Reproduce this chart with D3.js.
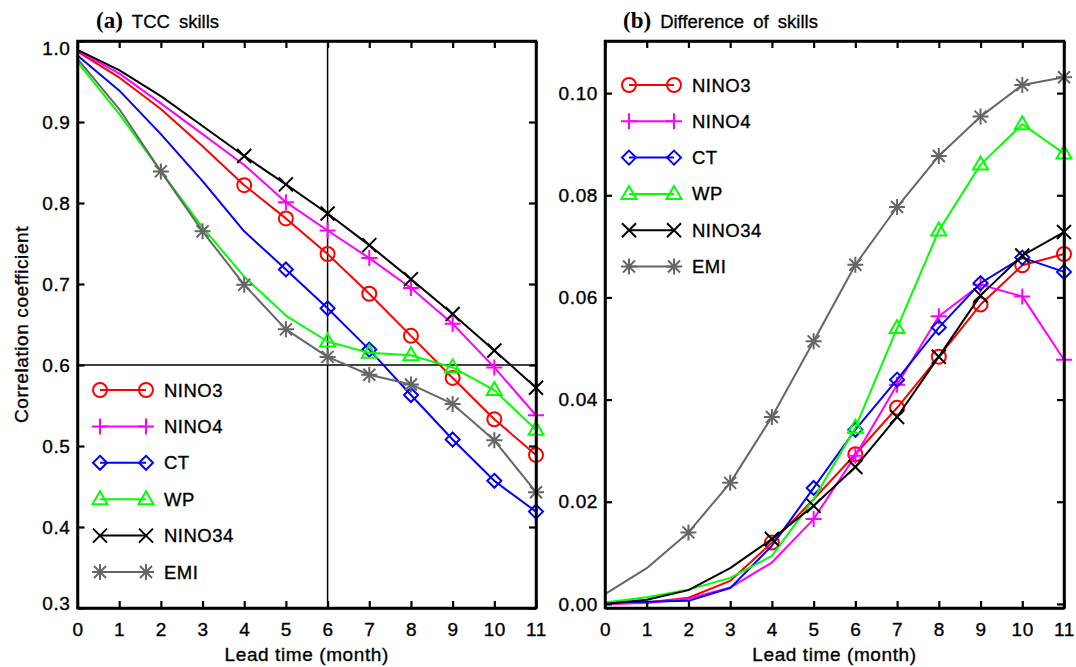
<!DOCTYPE html>
<html>
<head>
<meta charset="utf-8">
<script src="https://cdn.jsdelivr.net/npm/d3@7"></script>
<style>
  body { margin: 0; background: #fff; }
  svg { display: block; }
  text { font-family: "Liberation Sans", Arial, Helvetica, sans-serif; fill: #000; }
</style>
</head>
<body>
<svg id="chart" width="1076" height="667"></svg>
<script>
// ---------------- data ----------------
const leadMonths = [0, 1, 2, 3, 4, 5, 6, 7, 8, 9, 10, 11];
const seriesNames = ["NINO3", "NINO4", "CT", "WP", "NINO34", "EMI"];

// (a) TCC skills
const tccNINO3  = [0.987, 0.955, 0.916, 0.870, 0.822, 0.781, 0.737, 0.688, 0.636, 0.584, 0.533, 0.489];
const tccNINO4  = [0.988, 0.960, 0.923, 0.885, 0.847, 0.801, 0.766, 0.732, 0.695, 0.651, 0.597, 0.538];
const tccCT     = [0.982, 0.939, 0.885, 0.827, 0.765, 0.718, 0.670, 0.619, 0.563, 0.508, 0.457, 0.419];
const tccWP     = [0.974, 0.910, 0.839, 0.770, 0.709, 0.661, 0.629, 0.615, 0.612, 0.597, 0.569, 0.520];
const tccNINO34 = [0.989, 0.964, 0.932, 0.895, 0.858, 0.823, 0.787, 0.748, 0.706, 0.663, 0.618, 0.572];
const tccEMI    = [0.978, 0.916, 0.839, 0.765, 0.699, 0.644, 0.610, 0.588, 0.576, 0.552, 0.507, 0.443];

// months with markers in (a)
const markA_NINO3  = [4, 5, 6, 7, 8, 9, 10, 11];
const markA_NINO4  = [5, 6, 7, 8, 9, 10, 11];
const markA_CT     = [5, 6, 7, 8, 9, 10, 11];
const markA_WP     = [6, 7, 8, 9, 10, 11];
const markA_NINO34 = [4, 5, 6, 7, 8, 9, 10, 11];
const markA_EMI    = [2, 3, 4, 5, 6, 7, 8, 9, 10, 11];

// (b) Difference of skills
const diffNINO3  = [0.0000, 0.0003, 0.0012, 0.0045, 0.0120, 0.0205, 0.0293, 0.0384, 0.0484, 0.0586, 0.0663, 0.0685];
const diffNINO4  = [0.0000, 0.0002, 0.0010, 0.0032, 0.0081, 0.0166, 0.0290, 0.0429, 0.0563, 0.0625, 0.0602, 0.0478];
const diffCT     = [0.0003, 0.0004, 0.0006, 0.0031, 0.0114, 0.0227, 0.0341, 0.0439, 0.0541, 0.0628, 0.0678, 0.0650];
const diffWP     = [0.0003, 0.0013, 0.0028, 0.0051, 0.0094, 0.0205, 0.0345, 0.0540, 0.0731, 0.0860, 0.0939, 0.0882];
const diffNINO34 = [0.0000, 0.0008, 0.0027, 0.0070, 0.0127, 0.0192, 0.0268, 0.0366, 0.0484, 0.0604, 0.0682, 0.0728];
const diffEMI    = [0.0019, 0.0070, 0.0140, 0.0237, 0.0366, 0.0514, 0.0664, 0.0777, 0.0877, 0.0954, 0.1016, 0.1031];

// months with markers in (b)
const markB_NINO3  = [4, 6, 7, 8, 9, 10, 11];
const markB_NINO4  = [5, 6, 7, 8, 9, 10, 11];
const markB_CT     = [5, 6, 7, 8, 9, 10, 11];
const markB_WP     = [6, 7, 8, 9, 10, 11];
const markB_NINO34 = [4, 5, 6, 7, 8, 9, 10, 11];
const markB_EMI    = [2, 3, 4, 5, 6, 7, 8, 9, 10, 11];

const xTickValues = [0, 1, 2, 3, 4, 5, 6, 7, 8, 9, 10, 11];
const yTicksA = [0.3, 0.4, 0.5, 0.6, 0.7, 0.8, 0.9, 1.0];
const yTicksB = [0.00, 0.02, 0.04, 0.06, 0.08, 0.10];

// ---------------- styles ----------------
const colors = { NINO3: "#ff0000", NINO4: "#ff00ff", CT: "#0000ff", WP: "#00ff00", NINO34: "#000000", EMI: "#666666" };
const markerType = { NINO3: "circle", NINO4: "plus", CT: "diamond", WP: "triangle", NINO34: "cross", EMI: "asterisk" };

const tccData = { NINO3: tccNINO3, NINO4: tccNINO4, CT: tccCT, WP: tccWP, NINO34: tccNINO34, EMI: tccEMI };
const tccMarks = { NINO3: markA_NINO3, NINO4: markA_NINO4, CT: markA_CT, WP: markA_WP, NINO34: markA_NINO34, EMI: markA_EMI };
const diffData = { NINO3: diffNINO3, NINO4: diffNINO4, CT: diffCT, WP: diffWP, NINO34: diffNINO34, EMI: diffEMI };
const diffMarks = { NINO3: markB_NINO3, NINO4: markB_NINO4, CT: markB_CT, WP: markB_WP, NINO34: markB_NINO34, EMI: markB_EMI };

function markerPath(type) {
  const p = d3.path();
  if (type === "circle") {
    p.moveTo(7, 0); p.arc(0, 0, 7, 0, Math.PI * 2);
  } else if (type === "plus") {
    p.moveTo(-8, 0); p.lineTo(8, 0); p.moveTo(0, -8); p.lineTo(0, 8);
  } else if (type === "diamond") {
    p.moveTo(0, -7); p.lineTo(7, 0); p.lineTo(0, 7); p.lineTo(-7, 0); p.closePath();
  } else if (type === "triangle") {
    p.moveTo(0, -8); p.lineTo(7.5, 5); p.lineTo(-7.5, 5); p.closePath();
  } else if (type === "cross") {
    p.moveTo(-7, -7); p.lineTo(7, 7); p.moveTo(-7, 7); p.lineTo(7, -7);
  } else if (type === "asterisk") {
    p.moveTo(-8, 0); p.lineTo(8, 0); p.moveTo(0, -8); p.lineTo(0, 8);
    p.moveTo(-6, -6); p.lineTo(6, 6); p.moveTo(-6, 6); p.lineTo(6, -6);
  }
  return p.toString();
}

const svg = d3.select("#chart");
svg.append("rect").attr("width", 1076).attr("height", 667).attr("fill", "#fff");

function drawPanel(opts) {
  const { left, right, top, bottom, yDomain, yTicks, yFormat, data, marks, legend, title, titleLetter, yLabel, grid } = opts;
  const x = d3.scaleLinear().domain([0, 11]).range([left, right]);
  const y = d3.scaleLinear().domain(yDomain).range([bottom, top]);
  const g = svg.append("g");

  if (grid) {
    g.append("line").attr("x1", x(grid.x)).attr("x2", x(grid.x)).attr("y1", top).attr("y2", bottom)
      .attr("stroke", "#000").attr("stroke-width", 1.5);
    g.append("line").attr("x1", left).attr("x2", right).attr("y1", y(grid.y)).attr("y2", y(grid.y))
      .attr("stroke", "#000").attr("stroke-width", 1.5);
  }

  const line = d3.line().x((d, i) => x(leadMonths[i])).y(d => y(d));
  seriesNames.forEach(name => {
    g.append("path").attr("d", line(data[name])).attr("fill", "none")
      .attr("stroke", colors[name]).attr("stroke-width", 2).attr("stroke-linejoin", "round");
    g.selectAll(null).data(marks[name]).enter().append("path")
      .attr("d", markerPath(markerType[name]))
      .attr("transform", m => `translate(${x(m)},${y(data[name][m])})`)
      .attr("fill", "none").attr("stroke", colors[name]).attr("stroke-width", 2);
  });

  seriesNames.forEach((name, i) => {
    const ly = legend.y + i * legend.dy;
    g.append("line").attr("x1", legend.x1).attr("x2", legend.x2).attr("y1", ly).attr("y2", ly)
      .attr("stroke", colors[name]).attr("stroke-width", 2);
    [legend.x1, legend.x2].forEach(mx => {
      g.append("path").attr("d", markerPath(markerType[name])).attr("transform", `translate(${mx},${ly})`)
        .attr("fill", "none").attr("stroke", colors[name]).attr("stroke-width", 2);
    });
    g.append("text").attr("x", legend.tx).attr("y", ly + 6.5).attr("font-size", 18.5)
      .attr("letter-spacing", 0.5).attr("stroke", "#000").attr("stroke-width", 0.35).text(name);
  });

  const tickLen = 7;
  const ax = g.append("g").attr("class", "axes");
  ax.append("g").attr("transform", `translate(0,${bottom})`)
    .call(d3.axisBottom(x).tickValues(xTickValues).tickSizeInner(-tickLen).tickSizeOuter(0).tickPadding(15).tickFormat(d3.format("d")));
  ax.append("g").attr("transform", `translate(0,${top})`)
    .call(d3.axisTop(x).tickValues(xTickValues).tickSizeInner(-tickLen).tickSizeOuter(0).tickFormat(""));
  const leftAxis = ax.append("g").attr("transform", `translate(${left},0)`)
    .call(d3.axisLeft(y).tickValues(yTicks).tickSizeInner(-tickLen).tickSizeOuter(0).tickPadding(7).tickFormat(d3.format(yFormat)));
  ax.append("g").attr("transform", `translate(${right},0)`)
    .call(d3.axisRight(y).tickValues(yTicks).tickSizeInner(-tickLen).tickSizeOuter(0).tickFormat(""));
  ax.selectAll(".domain").attr("stroke", "#000").attr("stroke-width", 2.5);
  ax.selectAll(".tick line").attr("stroke", "#000").attr("stroke-width", 2.2);
  ax.selectAll("text").attr("font-size", 19).attr("letter-spacing", 0.6)
    .attr("font-family", "'Liberation Sans', Arial, sans-serif").attr("fill", "#000")
    .attr("stroke", "#000").attr("stroke-width", 0.35);
  g.append("rect").attr("x", left).attr("y", top).attr("width", right - left).attr("height", bottom - top)
    .attr("fill", "none").attr("stroke", "#000").attr("stroke-width", 2.5);

  if (opts.shiftEdgeLabels) {
    leftAxis.selectAll(".tick text").attr("transform", d => d === yDomain[1] ? "translate(0,7)" : (d === yDomain[0] ? "translate(0,-5)" : null));
  }

  g.append("text").attr("x", (left + right) / 2).attr("y", 661).attr("text-anchor", "middle")
    .attr("font-size", 19).attr("letter-spacing", 0.6).attr("stroke", "#000").attr("stroke-width", 0.35)
    .text("Lead time (month)");

  if (yLabel) {
    g.append("text").attr("transform", `translate(28,${(top + bottom) / 2}) rotate(-90)`)
      .attr("text-anchor", "middle").attr("font-size", 19).attr("letter-spacing", 0.6)
      .attr("stroke", "#000").attr("stroke-width", 0.35).text(yLabel);
  }

  const t = g.append("text").attr("x", title.x).attr("y", 28);
  t.append("tspan").attr("font-family", "'Liberation Serif', 'Times New Roman', serif").attr("font-weight", "bold")
    .attr("font-size", 23).text(titleLetter);
  t.append("tspan").attr("font-size", 18.5).attr("dx", 9).attr("word-spacing", 4)
    .attr("stroke", "#000").attr("stroke-width", 0.3).text(title.text);
}

drawPanel({
  left: 77.5, right: 536, top: 41, bottom: 608,
  yDomain: [0.3, 1.0], yTicks: yTicksA, yFormat: ".1f",
  data: tccData, marks: tccMarks,
  legend: { x1: 100, x2: 146, tx: 164, y: 390, dy: 36.4 },
  title: { x: 96, text: "TCC skills" }, titleLetter: "(a)",
  yLabel: "Correlation coefficient", grid: { x: 6, y: 0.6 }, shiftEdgeLabels: true
});

drawPanel({
  left: 605, right: 1064, top: 41, bottom: 608,
  yDomain: [-0.0008, 0.1102], yTicks: yTicksB, yFormat: ".2f",
  data: diffData, marks: diffMarks,
  legend: { x1: 629, x2: 674, tx: 692, y: 85, dy: 36.3 },
  title: { x: 623, text: "Difference of skills" }, titleLetter: "(b)",
  yLabel: null, grid: null
});
</script>
</body>
</html>
